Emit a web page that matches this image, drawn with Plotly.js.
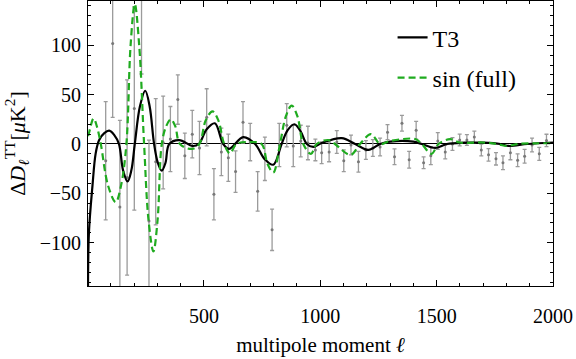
<!DOCTYPE html>
<html>
<head>
<meta charset="utf-8">
<script src="https://cdn.plot.ly/plotly-3.0.1.min.js"></script>
<style>
  html, body { margin: 0; padding: 0; background: #fff; }
  #chart { width: 576px; height: 359px; }
</style>
</head>
<body>
<div id="chart"></div>
<script>
'use strict';

// binned residuals
let data_ell = [78, 108, 139, 170, 201, 232, 264, 293, 325, 356, 388, 418, 450, 481, 512, 543,
  575, 605, 636, 668, 699, 731, 762, 793, 824, 856, 884, 916, 947, 979, 1006, 1038,
  1071, 1101, 1132, 1164, 1196, 1226, 1257, 1289, 1319, 1351, 1382, 1412, 1444, 1475, 1505, 1537,
  1568, 1599, 1630, 1662, 1692, 1723, 1755, 1785, 1817, 1848, 1878, 1910, 1941, 1972];
let data_dl = [-17, 102, -64, -34, 36, 171, -78, -18, 1.5, 5, 45, -12, 10, -4, 27, -51,
  -8, -14, -28, 22, 2, -48, -15, -87, -1, 19, -2, 3, 1, -6, -9, -8,
  2, -17, -1, -18, -6, -4, -3, 12, -13, 21, -16, 14, -19, -12, 3, -8,
  0, 4, 4, 7, -6, -11, -15, -19, -9, -16.5, -12.5, -1, -10, 3.6];
let data_err = [60, 75, 88, 99, 103, 100, 82, 64, 47, 33, 25, 23, 24, 27, 29, 26,
  24, 24, 21, 21, 19, 20, 22, 21, 22, 22, 21, 16, 17, 11, 11, 10,
  11.5, 11, 10, 10.5, 9.5, 8.5, 9, 7.6, 8, 8, 8.5, 9, 6, 9, 8.5, 7,
  6.5, 6, 5.5, 6, 6, 6.3, 6.3, 7, 7, 6.5, 7, 7, 6.6, 6.3];

// model curves (T3 and sin (full)), read at turning points, crossings and flanks
let t3_ell = [2, 6, 21, 35, 50, 72, 93, 115, 135, 153, 172, 188, 203, 225, 248, 267,
  286, 302, 319, 335, 351, 394, 451, 478, 512, 547, 583, 608, 669, 720, 760, 798,
  834, 860, 889, 915, 942, 970, 1006, 1092, 1150, 1207, 1257, 1300, 1400, 1436, 1494, 1544,
  1620, 1700, 1774, 1810, 1890, 2000];
let t3_dl = [-150, -90, -43, -9.5, 4, 11, 13.5, 9, 0, -27, -38, -27, 0, 38, 54, 38,
  0, -19, -27, -19, 0, 4, -2, 0, 15, 21, 0, -5, 7, 0, -15, -21,
  0, 14, 20, 13, 0, -3, 1, 6, 0, -6, 0, 2.4, 2.4, 0, -4, 0,
  1.3, 1.3, 0, -2, 0, 1.5];

let sin_ell = [2, 6, 26, 40, 57, 88, 121, 144, 167, 185, 203, 222, 243, 262, 283, 301,
  319, 338, 358, 377, 397, 448, 480, 508, 537, 562, 587, 612, 640, 700, 748, 773,
  798, 827, 852, 877, 902, 927, 960, 985, 1035, 1063, 1130, 1171, 1218, 1257, 1300, 1408,
  1436, 1478, 1508, 1558, 1600, 1700, 1760, 1802, 1850, 1920, 2000];
let sin_dl = [8, 11, 26, 18, 0, -42, -59, -42, 0, 100, 142, 100, 0, -77, -109, -77,
  0, 18, 25, 18, 0, -5, 0, 24, 33, 24, 0, -9.5, 0, 2, 0, -20,
  -29, 0, 28, 39, 28, 0, -10, 0, 4, 0, -11, 0, 10, 0, 3, 5,
  0, -10, 0, 5, 1.5, 1.5, 0, -2, 0, 0.7, 0.7];

let serif = 'Liberation Serif';

function draw(){
  var traces = [{
    x: data_ell,
    y: data_dl,
    type: 'scatter',
    mode: 'markers',
    showlegend: false,
    marker: {size: 3, color: 'rgb(120,120,120)'},
    error_y: {type: 'data', array: data_err, visible: true,
              color: 'rgb(155,155,155)', thickness: 1.3, width: 2}
  }, {
    x: t3_ell,
    y: t3_dl,
    type: 'scatter',
    mode: 'lines',
    name: 'T3',
    legendgroup: 'a',
    line: {color: 'black', width: 2.2, shape: 'spline', smoothing: 1}
  }, {
    x: sin_ell,
    y: sin_dl,
    type: 'scatter',
    mode: 'lines',
    name: 'sin (full)',
    legendgroup: 'b',
    line: {color: '#1fab1f', width: 2.2, dash: '7px,4px', shape: 'spline', smoothing: 1}
  }];

  var layout = {
    width: 576,
    height: 359,
    margin: {l: 88, r: 23, t: 1, b: 73},
    paper_bgcolor: 'white',
    plot_bgcolor: 'white',
    font: {family: serif, color: 'black'},
    showlegend: true,
    legend: {
      x: 0.655, y: 0.95, xanchor: 'left', yanchor: 'top',
      bgcolor: 'rgba(0,0,0,0)',
      font: {family: serif, size: 24, color: 'black'},
      itemwidth: 30,
      traceorder: 'grouped',
      tracegroupgap: 6
    },
    xaxis: {
      range: [2, 2000],
      tick0: 0,
      dtick: 500,
      ticks: 'inside',
      ticklen: 6,
      tickcolor: 'black',
      showline: true,
      linecolor: 'black',
      linewidth: 1,
      mirror: 'ticks',
      showgrid: false,
      zeroline: false,
      ticklabelstandoff: 12,
      tickfont: {family: serif, size: 20, color: 'black'},
      minor: {dtick: 100, ticks: 'inside', ticklen: 3, tickcolor: 'black', showgrid: false},
      title: {text: 'multipole moment <i>ℓ</i>', font: {family: serif, size: 21, color: 'black'}, standoff: 11}
    },
    yaxis: {
      range: [-144, 145],
      tick0: 0,
      dtick: 50,
      ticks: 'inside',
      ticklen: 6,
      tickcolor: 'black',
      showline: true,
      linecolor: 'black',
      linewidth: 1,
      mirror: 'ticks',
      showgrid: false,
      zeroline: true,
      zerolinecolor: 'black',
      zerolinewidth: 1,
      ticklabelstandoff: 2,
      tickfont: {family: serif, size: 20, color: 'black'},
      minor: {dtick: 10, ticks: 'inside', ticklen: 3, tickcolor: 'black', showgrid: false},
      title: {text: 'Δ<i>D</i><sub><i>ℓ</i></sub><sup>TT</sup>[<i>μ</i>K<sup>2</sup>]',
              font: {family: serif, size: 22, color: 'black'}, standoff: 8}
    }
  };

  Plotly.newPlot('chart', traces, layout, {staticPlot: true});
}

draw();
</script>
</body>
</html>
